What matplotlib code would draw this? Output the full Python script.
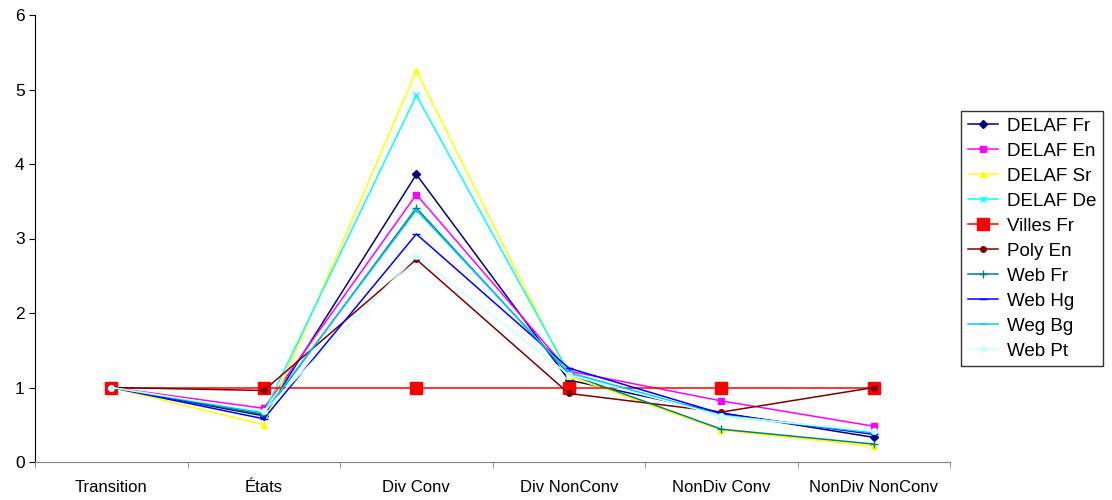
import matplotlib
matplotlib.use("Agg")
import matplotlib.pyplot as plt

plt.rcParams['font.family'] = ['Liberation Sans', 'DejaVu Sans']

categories = ['Transition', 'États', 'Div Conv', 'Div NonConv', 'NonDiv Conv', 'NonDiv NonConv']

delaf_fr = [1, 0.62, 3.86, 1.10, 0.66, 0.33]
delaf_en = [1, 0.72, 3.59, 1.22, 0.82, 0.48]
delaf_sr = [1, 0.50, 5.25, 1.15, 0.43, 0.21]
delaf_de = [1, 0.66, 4.92, 1.20, 0.62, 0.40]
villes_fr = [1, 1.00, 1.00, 1.00, 1.00, 1.00]
poly_en = [1, 0.96, 2.72, 0.92, 0.67, 1.00]
web_fr = [1, 0.64, 3.41, 1.18, 0.44, 0.24]
web_hg = [1, 0.58, 3.06, 1.26, 0.65, 0.37]
weg_bg = [1, 0.66, 3.38, 1.20, 0.63, 0.39]
web_pt = [1, 0.68, 2.76, 1.17, 0.62, 0.41]

series = [
    ('DELAF Fr', delaf_fr, '#000080', 'D', 4),
    ('DELAF En', delaf_en, '#FF00FF', 's', 5),
    ('DELAF Sr', delaf_sr, '#FFFF00', '^', 5),
    ('DELAF De', delaf_de, '#00FFFF', 'x', 4),
    ('Villes Fr', villes_fr, '#FF0000', 's', 8),
    ('Poly En', poly_en, '#800000', 'o', 4),
    ('Web Fr', web_fr, '#008080', '+', 6),
    ('Web Hg', web_hg, '#0000FF', '_', 6),
    ('Weg Bg', weg_bg, '#00CCFF', '_', 6),
    ('Web Pt', web_pt, '#CCFFFF', 'o', 4),
]

fig = plt.figure(figsize=(11.12, 5.0), dpi=100)
ax = fig.add_axes([0.0315, 0.076, 0.823, 0.894])

x = list(range(len(categories)))
for name, vals, col, mk, ms in series:
    ax.plot(x, vals, color=col, marker=mk, markersize=ms, linewidth=1.1,
            markeredgecolor=col, markerfacecolor=col, label=name)

ax.set_xlim(-0.5, len(categories) - 0.5)
ax.set_ylim(0, 6)
ax.set_yticks(range(0, 7))
ax.set_xticks(x)
ax.set_xticklabels(categories, fontsize=12)
ax.tick_params(axis='x', length=0, pad=13)
ax.set_xticks([i - 0.5 for i in range(len(categories) + 1)], minor=True)
ax.tick_params(axis='x', which='minor', length=4, color='#808080', direction='out')
ax.tick_params(axis='y', labelsize=12.5, length=4, direction='out')

ax.spines['top'].set_visible(False)
ax.spines['right'].set_visible(False)
ax.spines['bottom'].set_color('#808080')
ax.spines['left'].set_color('black')

leg = ax.legend(loc='center left', bbox_to_anchor=(1.012, 0.50), fontsize=13.5,
                frameon=True, fancybox=False, edgecolor='black',
                handlelength=1.6, handletextpad=0.5, labelspacing=0.42,
                borderpad=0.35, borderaxespad=0)
leg.get_frame().set_linewidth(1)

fig.savefig('out.png', dpi=100)
